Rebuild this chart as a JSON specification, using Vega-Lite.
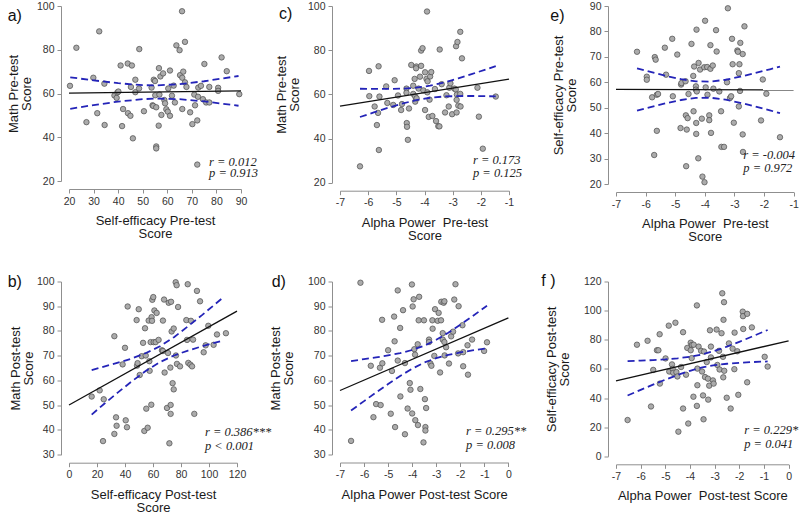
{
"$schema": "https://vega.github.io/schema/vega-lite/v6.json",
"padding": {"left": 7, "top": 1, "right": 0, "bottom": 0},
"config": {
 "view": {"stroke": null},
 "font": "Liberation Sans",
 "axis": {"domainColor": "#8f8f8f", "tickColor": "#8f8f8f", "tickSize": 4, "labelFontSize": 10.5, "labelColor": "#333333", "titleFontSize": 13, "titleFontWeight": "normal", "titleColor": "#1a1a1a", "grid": false, "labelPadding": 3, "offset": 8, "labelFont": "Liberation Sans", "titleFont": "Liberation Sans", "labelFlush": false, "labelOverlap": false, "labelBound": false, "labelExpr": "'' + datum.value", "titleLineHeight": 13},
 "axisY": {"labelAngle": 0},
 "axisX": {"titlePadding": 8},
 "title": {"anchor": "start", "frame": "group", "fontSize": 16, "fontWeight": "normal", "font": "Liberation Sans", "baseline": "alphabetic", "offset": 0, "color": "#111111"},
 "circle": {"size": 30, "fill": "#ababab", "stroke": "#4a4a4a", "strokeWidth": 0.7, "opacity": 1},
 "line": {"strokeWidth": 1.3, "color": "#111111"},
 "text": {"font": "Liberation Serif", "fontStyle": "italic", "fontSize": 12.5, "align": "left", "baseline": "alphabetic", "color": "#222222"}
},
"datasets": {
 "pa": [{"x":20.4,"y":63.5},{"x":23,"y":80.9},{"x":27.1,"y":46.9},{"x":29.9,"y":67.2},{"x":31.5,"y":51},{"x":32.3,"y":88.4},{"x":34.4,"y":64.5},{"x":34.5,"y":45.6},{"x":38.5,"y":59.1},{"x":39.4,"y":58},{"x":39.7,"y":60.5},{"x":40.1,"y":60.9},{"x":41,"y":72.8},{"x":42,"y":52.9},{"x":41.6,"y":45.1},{"x":43.9,"y":73.7},{"x":44,"y":51},{"x":45,"y":49.8},{"x":45.2,"y":63},{"x":45.6,"y":72.8},{"x":46,"y":39.5},{"x":47,"y":66.3},{"x":47,"y":60.6},{"x":48.5,"y":62.3},{"x":48.6,"y":80.3},{"x":50.5,"y":51.9},{"x":53.6,"y":62.7},{"x":54,"y":54.6},{"x":54.3,"y":54.3},{"x":54.5,"y":66.3},{"x":55,"y":65.7},{"x":55.1,"y":59.2},{"x":55.5,"y":53.7},{"x":55.5,"y":35.8},{"x":55.5,"y":34.9},{"x":56.5,"y":45.3},{"x":56.6,"y":71.6},{"x":56.8,"y":59.5},{"x":57.2,"y":67.8},{"x":57.6,"y":50.2},{"x":58.3,"y":69.2},{"x":58.8,"y":57},{"x":59.1,"y":55.5},{"x":59.6,"y":52.8},{"x":60.2,"y":51.7},{"x":60.4,"y":62.3},{"x":61.1,"y":70.5},{"x":61.1,"y":49.8},{"x":61.9,"y":59},{"x":62.6,"y":63.6},{"x":63.1,"y":55.9},{"x":63.7,"y":82},{"x":65,"y":79.8},{"x":65.2,"y":68.4},{"x":66,"y":97.6},{"x":66.1,"y":67.2},{"x":66.1,"y":52.9},{"x":66.5,"y":70},{"x":67.2,"y":83.6},{"x":67.2,"y":65.1},{"x":67.8,"y":63},{"x":69.3,"y":51.4},{"x":70.2,"y":46},{"x":71,"y":59.5},{"x":71.3,"y":54.6},{"x":72.2,"y":27.5},{"x":72.2,"y":47.7},{"x":72.5,"y":58.5},{"x":72.6,"y":62.7},{"x":73.7,"y":63.5},{"x":74.5,"y":57.4},{"x":75.1,"y":73.5},{"x":75.8,"y":55.9},{"x":77.1,"y":55.9},{"x":77.1,"y":63},{"x":80.7,"y":62.6},{"x":80.7,"y":61.2},{"x":82.1,"y":76.5},{"x":84.2,"y":70.2},{"x":89.3,"y":59.7}],
 "la": [{"x":20,"y":60.2},{"x":90,"y":61.2}],
 "ca": [{"x":20.5,"y":67.4,"band":"hi"},{"x":30,"y":66.0,"band":"hi"},{"x":40,"y":64.7,"band":"hi"},{"x":50,"y":63.8,"band":"hi"},{"x":56,"y":63.7,"band":"hi"},{"x":65,"y":64.3,"band":"hi"},{"x":75,"y":65.6,"band":"hi"},{"x":89,"y":68.0,"band":"hi"},
        {"x":20.5,"y":53.0,"band":"lo"},{"x":30,"y":54.7,"band":"lo"},{"x":40,"y":56.3,"band":"lo"},{"x":50,"y":57.4,"band":"lo"},{"x":56,"y":57.7,"band":"lo"},{"x":65,"y":57.4,"band":"lo"},{"x":75,"y":56.4,"band":"lo"},{"x":89,"y":54.4,"band":"lo"}],
 "pc": [{"x":-6.29,"y":27.4},{"x":-5.97,"y":70.6},{"x":-5.96,"y":59.2},{"x":-5.77,"y":54.5},{"x":-5.65,"y":51.6},{"x":-5.69,"y":46.1},{"x":-5.62,"y":34.8},{"x":-5.63,"y":72.7},{"x":-5.6,"y":59},{"x":-5.36,"y":63.6},{"x":-5.32,"y":56.1},{"x":-5.11,"y":55.2},{"x":-4.94,"y":59.5},{"x":-5.06,"y":66.4},{"x":-4.83,"y":52.9},{"x":-4.8,"y":55.6},{"x":-4.64,"y":62.6},{"x":-4.64,"y":60.7},{"x":-4.63,"y":47},{"x":-4.62,"y":45.3},{"x":-4.59,"y":39.4},{"x":-4.55,"y":53.6},{"x":-4.47,"y":73.3},{"x":-4.4,"y":63.9},{"x":-4.4,"y":60.2},{"x":-4.35,"y":67},{"x":-4.33,"y":56.7},{"x":-4.33,"y":59},{"x":-4.28,"y":58.2},{"x":-4.29,"y":72.6},{"x":-4.3,"y":71.8},{"x":-4.21,"y":62.6},{"x":-4.16,"y":68},{"x":-4.12,"y":72.9},{"x":-4.12,"y":79.8},{"x":-4.07,"y":80.9},{"x":-4.04,"y":61.8},{"x":-3.98,"y":52.9},{"x":-3.98,"y":70},{"x":-3.93,"y":67},{"x":-3.91,"y":97.5},{"x":-3.9,"y":60.9},{"x":-3.89,"y":65.9},{"x":-3.85,"y":49.8},{"x":-3.82,"y":57.6},{"x":-3.8,"y":68.1},{"x":-3.76,"y":70.1},{"x":-3.72,"y":50.2},{"x":-3.63,"y":62.4},{"x":-3.59,"y":47.9},{"x":-3.51,"y":45.6},{"x":-3.47,"y":45.5},{"x":-3.46,"y":80.3},{"x":-3.39,"y":64.6},{"x":-3.27,"y":51.8},{"x":-3.22,"y":59.6},{"x":-3.14,"y":54.5},{"x":-3.12,"y":63},{"x":-3.08,"y":65},{"x":-3.02,"y":51},{"x":-2.94,"y":62.6},{"x":-2.89,"y":62.2},{"x":-2.88,"y":81.8},{"x":-2.86,"y":57.5},{"x":-2.86,"y":51.8},{"x":-2.85,"y":59.9},{"x":-2.83,"y":83.7},{"x":-2.8,"y":54.9},{"x":-2.73,"y":88.3},{"x":-2.73,"y":60.2},{"x":-2.72,"y":54.5},{"x":-2.67,"y":76.3},{"x":-2.12,"y":63},{"x":-2.07,"y":49.9},{"x":-1.93,"y":35.4},{"x":-1.47,"y":59}],
 "lc": [{"x":-7,"y":54.7},{"x":-1,"y":66.9}],
 "cc": [{"x":-6.29,"y":62.54,"band":"hi"},{"x":-5.8,"y":62.45,"band":"hi"},{"x":-5.3,"y":62.44,"band":"hi"},{"x":-4.8,"y":62.57,"band":"hi"},{"x":-4.3,"y":63.01,"band":"hi"},{"x":-3.8,"y":63.94,"band":"hi"},{"x":-3.3,"y":65.41,"band":"hi"},{"x":-2.8,"y":67.24,"band":"hi"},{"x":-2.3,"y":69.26,"band":"hi"},{"x":-1.8,"y":71.37,"band":"hi"},{"x":-1.47,"y":72.79,"band":"hi"},
        {"x":-6.29,"y":49.74,"band":"lo"},{"x":-5.8,"y":51.83,"band":"lo"},{"x":-5.3,"y":53.88,"band":"lo"},{"x":-4.8,"y":55.77,"band":"lo"},{"x":-4.3,"y":57.37,"band":"lo"},{"x":-3.8,"y":58.46,"band":"lo"},{"x":-3.3,"y":59.03,"band":"lo"},{"x":-2.8,"y":59.24,"band":"lo"},{"x":-2.3,"y":59.26,"band":"lo"},{"x":-1.8,"y":59.17,"band":"lo"},{"x":-1.47,"y":59.09,"band":"lo"}],
 "pe": [{"x":-6.29,"y":72},{"x":-5.96,"y":62.2},{"x":-5.96,"y":61},{"x":-5.78,"y":54.1},{"x":-5.69,"y":69.9},{"x":-5.66,"y":68.9},{"x":-5.62,"y":55.1},{"x":-5.62,"y":40.9},{"x":-5.58,"y":55.4},{"x":-5.71,"y":31.4},{"x":-5.35,"y":73.6},{"x":-5.31,"y":63},{"x":-5.08,"y":54.5},{"x":-5.1,"y":77.1},{"x":-4.93,"y":70.9},{"x":-4.82,"y":42},{"x":-4.8,"y":59.1},{"x":-4.79,"y":59.7},{"x":-4.65,"y":60.4},{"x":-4.64,"y":47},{"x":-4.61,"y":41.4},{"x":-4.58,"y":45.9},{"x":-4.63,"y":27},{"x":-4.55,"y":55.4},{"x":-4.45,"y":75.1},{"x":-4.38,"y":48.6},{"x":-4.39,"y":62.5},{"x":-4.36,"y":66.2},{"x":-4.3,"y":58.4},{"x":-4.3,"y":57.1},{"x":-4.29,"y":39.7},{"x":-4.29,"y":44},{"x":-4.28,"y":80.7},{"x":-4.27,"y":56.4},{"x":-4.21,"y":67.6},{"x":-4.22,"y":30.1},{"x":-4.16,"y":65},{"x":-4.1,"y":45.7},{"x":-4.08,"y":22.9},{"x":-4.02,"y":65.9},{"x":-4.01,"y":20.7},{"x":-3.99,"y":84.2},{"x":-3.97,"y":58},{"x":-3.92,"y":66},{"x":-3.91,"y":55.1},{"x":-3.85,"y":47},{"x":-3.85,"y":45.1},{"x":-3.81,"y":74.6},{"x":-3.81,"y":65.3},{"x":-3.79,"y":40.1},{"x":-3.73,"y":66.6},{"x":-3.71,"y":57.5},{"x":-3.62,"y":80.5},{"x":-3.6,"y":72.1},{"x":-3.51,"y":56.4},{"x":-3.45,"y":48.6},{"x":-3.44,"y":34.6},{"x":-3.35,"y":34.6},{"x":-3.25,"y":60},{"x":-3.22,"y":89.1},{"x":-3.15,"y":53.8},{"x":-3.11,"y":54.5},{"x":-3.08,"y":77.1},{"x":-3.06,"y":67.1},{"x":-3.02,"y":44.1},{"x":-2.9,"y":72.5},{"x":-2.88,"y":72},{"x":-2.85,"y":63.6},{"x":-2.85,"y":50.5},{"x":-2.83,"y":67.1},{"x":-2.81,"y":56.6},{"x":-2.8,"y":75.5},{"x":-2.72,"y":71.1},{"x":-2.72,"y":39.5},{"x":-2.71,"y":32.6},{"x":-2.66,"y":82},{"x":-2.1,"y":45},{"x":-2.04,"y":61.1},{"x":-1.92,"y":55.5},{"x":-1.46,"y":38.4}],
 "le": [{"x":-7,"y":57.2},{"x":-1,"y":57}],
 "ce": [{"x":-6.29,"y":65.48,"band":"hi"},{"x":-5.8,"y":63.95,"band":"hi"},{"x":-5.3,"y":62.49,"band":"hi"},{"x":-4.8,"y":61.22,"band":"hi"},{"x":-4.3,"y":60.36,"band":"hi"},{"x":-3.8,"y":60.28,"band":"hi"},{"x":-3.3,"y":61.0,"band":"hi"},{"x":-2.8,"y":62.19,"band":"hi"},{"x":-2.3,"y":63.6,"band":"hi"},{"x":-1.8,"y":65.11,"band":"hi"},{"x":-1.46,"y":66.17,"band":"hi"},
        {"x":-6.29,"y":48.88,"band":"lo"},{"x":-5.8,"y":50.37,"band":"lo"},{"x":-5.3,"y":51.79,"band":"lo"},{"x":-4.8,"y":53.04,"band":"lo"},{"x":-4.3,"y":53.86,"band":"lo"},{"x":-3.8,"y":53.92,"band":"lo"},{"x":-3.3,"y":53.16,"band":"lo"},{"x":-2.8,"y":51.93,"band":"lo"},{"x":-2.3,"y":50.5,"band":"lo"},{"x":-1.8,"y":48.95,"band":"lo"},{"x":-1.46,"y":47.87,"band":"lo"}],
 "pb": [{"x":16.2,"y":53.5},{"x":21.9,"y":56},{"x":24.8,"y":52.4},{"x":24.3,"y":35.5},{"x":32.4,"y":77.9},{"x":32.4,"y":38.4},{"x":33.6,"y":45.1},{"x":34,"y":41.7},{"x":38.3,"y":66.5},{"x":40,"y":73.2},{"x":40.5,"y":43.9},{"x":41.4,"y":41.1},{"x":41.9,"y":89.9},{"x":48.3,"y":84.4},{"x":48.6,"y":66},{"x":49,"y":67},{"x":49.8,"y":88.8},{"x":50.5,"y":62.2},{"x":51.9,"y":69.8},{"x":52.9,"y":75.2},{"x":53.8,"y":39.6},{"x":54.3,"y":81.1},{"x":54.8,"y":70.1},{"x":55.2,"y":48.6},{"x":56.2,"y":40.9},{"x":56.9,"y":84.2},{"x":57.4,"y":67.8},{"x":57.6,"y":63.9},{"x":58.3,"y":75.5},{"x":58.8,"y":50.2},{"x":59,"y":85.6},{"x":59.3,"y":84.1},{"x":59.5,"y":92.6},{"x":60.2,"y":93.7},{"x":60.5,"y":75.5},{"x":61,"y":88.3},{"x":61.9,"y":75.5},{"x":62.6,"y":87.3},{"x":64,"y":76.4},{"x":66.4,"y":72.2},{"x":67.1,"y":84.2},{"x":67.1,"y":71.9},{"x":67.9,"y":92.7},{"x":68.3,"y":63.2},{"x":70,"y":48.9},{"x":70.7,"y":71.1},{"x":71.2,"y":91.4},{"x":71.7,"y":34.6},{"x":72.4,"y":65.2},{"x":72.6,"y":50.1},{"x":72.6,"y":46.5},{"x":72.9,"y":91.8},{"x":73.3,"y":79.8},{"x":74,"y":58.9},{"x":74.8,"y":81},{"x":74.8,"y":56.4},{"x":76.4,"y":70.1},{"x":76.2,"y":99.7},{"x":76.9,"y":98.5},{"x":77.1,"y":66.7},{"x":77.9,"y":89.7},{"x":79.3,"y":65.7},{"x":83.8,"y":84.4},{"x":84.3,"y":76.4},{"x":84.8,"y":98.9},{"x":85.2,"y":67.1},{"x":86.7,"y":66.4},{"x":87.1,"y":84.1},{"x":87.9,"y":65.7},{"x":88.6,"y":76.5},{"x":89.5,"y":46.5},{"x":91.4,"y":96.2},{"x":93.6,"y":92},{"x":96.2,"y":71.4},{"x":97.6,"y":74.2},{"x":99.5,"y":82.1},{"x":103.3,"y":74.4},{"x":105.7,"y":78.6},{"x":112.1,"y":79.1}],
 "lb": [{"x":0,"y":50.1},{"x":120,"y":88}],
 "cb": [{"x":16.2,"y":64.2,"band":"hi"},{"x":25,"y":65.6,"band":"hi"},{"x":35,"y":67.2,"band":"hi"},{"x":45,"y":68.9,"band":"hi"},{"x":55,"y":71.1,"band":"hi"},{"x":65,"y":73.8,"band":"hi"},{"x":75,"y":77.5,"band":"hi"},{"x":85,"y":81.9,"band":"hi"},{"x":95,"y":86.4,"band":"hi"},{"x":110.2,"y":93.6,"band":"hi"},
        {"x":16.2,"y":46.2,"band":"lo"},{"x":25,"y":50.5,"band":"lo"},{"x":35,"y":55.2,"band":"lo"},{"x":45,"y":59.7,"band":"lo"},{"x":55,"y":63.9,"band":"lo"},{"x":65,"y":67.4,"band":"lo"},{"x":75,"y":70.1,"band":"lo"},{"x":85,"y":72.1,"band":"lo"},{"x":95,"y":73.8,"band":"lo"},{"x":110.2,"y":76.2,"band":"lo"}],
 "pd": [{"x":-6.54,"y":35.5},{"x":-6.15,"y":99.5},{"x":-5.72,"y":65.9},{"x":-5.61,"y":45.1},{"x":-5.5,"y":50.4},{"x":-5.34,"y":65.1},{"x":-5.31,"y":50},{"x":-5.25,"y":84.5},{"x":-5.24,"y":66.9},{"x":-5,"y":72.2},{"x":-4.89,"y":46.5},{"x":-4.84,"y":63.8},{"x":-4.75,"y":85.8},{"x":-4.73,"y":75.8},{"x":-4.71,"y":41.1},{"x":-4.6,"y":96.4},{"x":-4.6,"y":68},{"x":-4.5,"y":81.2},{"x":-4.49,"y":53.5},{"x":-4.38,"y":88.4},{"x":-4.3,"y":67},{"x":-4.3,"y":38.2},{"x":-4.19,"y":48.6},{"x":-4.1,"y":58.9},{"x":-4.07,"y":56.2},{"x":-4.01,"y":98.8},{"x":-4,"y":46.6},{"x":-3.98,"y":89.9},{"x":-3.94,"y":92.8},{"x":-3.91,"y":72.6},{"x":-3.88,"y":70.4},{"x":-3.87,"y":43.9},{"x":-3.76,"y":41.9},{"x":-3.77,"y":74.6},{"x":-3.73,"y":84.3},{"x":-3.71,"y":93.8},{"x":-3.66,"y":56.5},{"x":-3.51,"y":84.3},{"x":-3.47,"y":52.4},{"x":-3.45,"y":41.1},{"x":-3.45,"y":39.7},{"x":-3.42,"y":48.8},{"x":-3.53,"y":34.9},{"x":-3.3,"y":76.5},{"x":-3.3,"y":75.5},{"x":-3.24,"y":66.8},{"x":-3.2,"y":65.9},{"x":-3.16,"y":84.3},{"x":-3.15,"y":80.9},{"x":-3.08,"y":69.9},{"x":-3.05,"y":88.8},{"x":-2.94,"y":84.1},{"x":-2.9,"y":87.3},{"x":-2.84,"y":63.2},{"x":-2.8,"y":84.3},{"x":-2.79,"y":91.8},{"x":-2.73,"y":79.1},{"x":-2.73,"y":76.5},{"x":-2.69,"y":91.4},{"x":-2.66,"y":92},{"x":-2.66,"y":75.5},{"x":-2.65,"y":70.1},{"x":-2.59,"y":73.4},{"x":-2.47,"y":66.8},{"x":-2.38,"y":77.8},{"x":-2.3,"y":79.7},{"x":-2.25,"y":92.7},{"x":-2.2,"y":98.9},{"x":-2.09,"y":70.9},{"x":-2.07,"y":90},{"x":-1.91,"y":82.3},{"x":-1.88,"y":65.7},{"x":-1.88,"y":71.4},{"x":-1.7,"y":74.2},{"x":-1.68,"y":62.3},{"x":-1.51,"y":76.5},{"x":-1.01,"y":71.9},{"x":-0.89,"y":75.4}],
 "ld": [{"x":-7,"y":55.9},{"x":0,"y":85.3}],
 "cd": [{"x":-6.54,"y":67.8,"band":"hi"},{"x":-6,"y":68.6,"band":"hi"},{"x":-5.5,"y":69.3,"band":"hi"},{"x":-5,"y":70.1,"band":"hi"},{"x":-4.5,"y":71.0,"band":"hi"},{"x":-4,"y":72.3,"band":"hi"},{"x":-3.5,"y":74.0,"band":"hi"},{"x":-3,"y":76.4,"band":"hi"},{"x":-2.5,"y":79.3,"band":"hi"},{"x":-2,"y":82.5,"band":"hi"},{"x":-1.5,"y":85.9,"band":"hi"},{"x":-0.89,"y":90.2,"band":"hi"},
        {"x":-6.54,"y":47.8,"band":"lo"},{"x":-6,"y":51.6,"band":"lo"},{"x":-5.5,"y":55.1,"band":"lo"},{"x":-5,"y":58.5,"band":"lo"},{"x":-4.5,"y":61.8,"band":"lo"},{"x":-4,"y":64.7,"band":"lo"},{"x":-3.5,"y":67.2,"band":"lo"},{"x":-3,"y":69.0,"band":"lo"},{"x":-2.5,"y":70.3,"band":"lo"},{"x":-2,"y":71.3,"band":"lo"},{"x":-1.5,"y":72.1,"band":"lo"},{"x":-0.89,"y":73.0,"band":"lo"}],
 "pf": [{"x":-6.53,"y":24.9},{"x":-6.15,"y":76.6},{"x":-5.72,"y":79.3},{"x":-5.58,"y":34.2},{"x":-5.49,"y":59.3},{"x":-5.34,"y":72.8},{"x":-5.28,"y":72.8},{"x":-5.23,"y":83.8},{"x":-5.22,"y":49.9},{"x":-4.99,"y":67.2},{"x":-4.86,"y":89.7},{"x":-4.84,"y":58.2},{"x":-4.73,"y":63.1},{"x":-4.7,"y":60},{"x":-4.68,"y":57.3},{"x":-4.59,"y":91.7},{"x":-4.55,"y":57.8},{"x":-4.51,"y":54.8},{"x":-4.47,"y":16.9},{"x":-4.36,"y":61.3},{"x":-4.28,"y":85.2},{"x":-4.28,"y":32.8},{"x":-4.16,"y":56},{"x":-4.11,"y":74.4},{"x":-4.07,"y":22.5},{"x":-3.97,"y":78},{"x":-3.97,"y":72.8},{"x":-3.93,"y":67.4},{"x":-3.92,"y":76.4},{"x":-3.86,"y":40.9},{"x":-3.85,"y":76.6},{"x":-3.72,"y":103.6},{"x":-3.72,"y":34.6},{"x":-3.7,"y":60.2},{"x":-3.7,"y":48.8},{"x":-3.65,"y":75.3},{"x":-3.55,"y":72.4},{"x":-3.51,"y":58.2},{"x":-3.47,"y":41.8},{"x":-3.45,"y":25.4},{"x":-3.43,"y":71.9},{"x":-3.39,"y":54.4},{"x":-3.32,"y":64.7},{"x":-3.27,"y":53.3},{"x":-3.26,"y":38.9},{"x":-3.22,"y":48.5},{"x":-3.19,"y":86.5},{"x":-3.15,"y":75.3},{"x":-3.15,"y":67.9},{"x":-3.07,"y":52.1},{"x":-3.04,"y":49.9},{"x":-2.92,"y":87},{"x":-2.89,"y":62.7},{"x":-2.82,"y":72.4},{"x":-2.8,"y":59.6},{"x":-2.72,"y":84.5},{"x":-2.69,"y":111.9},{"x":-2.64,"y":93.7},{"x":-2.62,"y":105.8},{"x":-2.66,"y":68.3},{"x":-2.61,"y":58.7},{"x":-2.65,"y":54.2},{"x":-2.51,"y":40.2},{"x":-2.42,"y":77.5},{"x":-2.35,"y":32.8},{"x":-2.27,"y":73.9},{"x":-2.19,"y":84.9},{"x":-2.2,"y":59.8},{"x":-2.08,"y":72.1},{"x":-2.04,"y":42.2},{"x":-1.86,"y":99.3},{"x":-1.85,"y":96.2},{"x":-1.84,"y":87.4},{"x":-1.68,"y":97.8},{"x":-1.68,"y":50.8},{"x":-1.49,"y":88.5},{"x":-0.97,"y":68.3},{"x":-0.85,"y":61.6}],
 "lf": [{"x":-7,"y":51.7},{"x":0,"y":79.3}],
 "cf": [{"x":-6.53,"y":65.35,"band":"hi"},{"x":-6,"y":65.68,"band":"hi"},{"x":-5.5,"y":66.06,"band":"hi"},{"x":-5,"y":66.55,"band":"hi"},{"x":-4.5,"y":67.25,"band":"hi"},{"x":-4,"y":68.32,"band":"hi"},{"x":-3.5,"y":69.99,"band":"hi"},{"x":-3,"y":72.37,"band":"hi"},{"x":-2.5,"y":75.32,"band":"hi"},{"x":-2,"y":78.6,"band":"hi"},{"x":-1.5,"y":82.06,"band":"hi"},{"x":-0.85,"y":86.73,"band":"hi"},
        {"x":-6.53,"y":41.75,"band":"lo"},{"x":-6,"y":45.6,"band":"lo"},{"x":-5.5,"y":49.16,"band":"lo"},{"x":-5,"y":52.61,"band":"lo"},{"x":-4.5,"y":55.85,"band":"lo"},{"x":-4,"y":58.72,"band":"lo"},{"x":-3.5,"y":60.99,"band":"lo"},{"x":-3,"y":62.55,"band":"lo"},{"x":-2.5,"y":63.54,"band":"lo"},{"x":-2,"y":64.2,"band":"lo"},{"x":-1.5,"y":64.68,"band":"lo"},{"x":-0.85,"y":65.13,"band":"lo"}]
},
"columns": 5,
"align": "each",
"bounds": "flush",
"spacing": {"row": 97.5, "column": 0},
"concat": [
 {
  "width": 172, "height": 175,
  "title": {"text": "a)", "dx": -61.3, "dy": 26.5},
  "layer": [
   {"data": {"name": "pa"}, "mark": {"type": "circle"}, "encoding": {
     "x": {"field": "x", "type": "quantitative", "scale": {"domain": [20, 90], "nice": false, "zero": false}, "axis": {"values": [20,30,40,50,60,70,80,90], "title": ["Self-efficacy Pre-test", "Score"]}},
     "y": {"field": "y", "type": "quantitative", "scale": {"domain": [20, 100], "nice": false, "zero": false}, "axis": {"values": [20,40,60,80,100], "title": ["Math Pre-test", "Score"], "titlePadding": 3.2}}}},
   {"data": {"name": "la"}, "mark": {"type": "line"}, "encoding": {
     "x": {"field": "x", "type": "quantitative", "axis": {"values": [20,30,40,50,60,70,80,90], "title": ["Self-efficacy Pre-test", "Score"]}},
     "y": {"field": "y", "type": "quantitative", "axis": {"values": [20,40,60,80,100], "title": ["Math Pre-test", "Score"], "titlePadding": 3.2}}}},
   {"data": {"name": "ca"}, "mark": {"type": "line", "color": "#2424b8", "strokeWidth": 1.8, "strokeDash": [7, 4]}, "encoding": {"detail": {"field": "band"},
     "x": {"field": "x", "type": "quantitative", "axis": {"values": [20,30,40,50,60,70,80,90], "title": ["Self-efficacy Pre-test", "Score"]}},
     "y": {"field": "y", "type": "quantitative", "axis": {"values": [20,40,60,80,100], "title": ["Math Pre-test", "Score"], "titlePadding": 3.2}}}},
   {"data": {"values": [{"t": "r = 0.012"}]}, "mark": {"type": "text"}, "encoding": {"text": {"field": "t"},
     "x": {"datum": 77, "type": "quantitative", "axis": {"values": [20,30,40,50,60,70,80,90], "title": ["Self-efficacy Pre-test", "Score"]}},
     "y": {"datum": 26.9, "type": "quantitative", "axis": {"values": [20,40,60,80,100], "title": ["Math Pre-test", "Score"], "titlePadding": 3.2}}}},
   {"data": {"values": [{"t": "p = 0.913"}]}, "mark": {"type": "text"}, "encoding": {"text": {"field": "t"},
     "x": {"datum": 77, "type": "quantitative", "axis": {"values": [20,30,40,50,60,70,80,90], "title": ["Self-efficacy Pre-test", "Score"]}},
     "y": {"datum": 21.7, "type": "quantitative", "axis": {"values": [20,40,60,80,100], "title": ["Math Pre-test", "Score"], "titlePadding": 3.2}}}}
  ]
 },
 {"width": 98.7, "height": 1, "data": {"values": []}, "mark": "point"},
 {
  "width": 169, "height": 176.7,
  "title": {"text": "c)", "dx": -61, "dy": 25},
  "layer": [
   {"data": {"name": "pc"}, "mark": {"type": "circle"}, "encoding": {
     "x": {"field": "x", "type": "quantitative", "scale": {"domain": [-7, -1], "nice": false, "zero": false}, "axis": {"values": [-7,-6,-5,-4,-3,-2,-1], "title": ["Alpha Power\u00a0 Pre-test", "Score"]}},
     "y": {"field": "y", "type": "quantitative", "scale": {"domain": [20, 100], "nice": false, "zero": false}, "axis": {"values": [20,40,60,80,100], "title": ["Math Pre-test", "Score"], "titlePadding": 5.5}}}},
   {"data": {"name": "lc"}, "mark": {"type": "line"}, "encoding": {
     "x": {"field": "x", "type": "quantitative", "axis": {"values": [-7,-6,-5,-4,-3,-2,-1], "title": ["Alpha Power\u00a0 Pre-test", "Score"]}},
     "y": {"field": "y", "type": "quantitative", "axis": {"values": [20,40,60,80,100], "title": ["Math Pre-test", "Score"], "titlePadding": 5.5}}}},
   {"data": {"name": "cc"}, "mark": {"type": "line", "color": "#2424b8", "strokeWidth": 1.8, "strokeDash": [7, 4]}, "encoding": {"detail": {"field": "band"},
     "x": {"field": "x", "type": "quantitative", "axis": {"values": [-7,-6,-5,-4,-3,-2,-1], "title": ["Alpha Power\u00a0 Pre-test", "Score"]}},
     "y": {"field": "y", "type": "quantitative", "axis": {"values": [20,40,60,80,100], "title": ["Math Pre-test", "Score"], "titlePadding": 5.5}}}},
   {"data": {"values": [{"t": "r = 0.173"}]}, "mark": {"type": "text"}, "encoding": {"text": {"field": "t"},
     "x": {"datum": -2.28, "type": "quantitative", "axis": {"values": [-7,-6,-5,-4,-3,-2,-1], "title": ["Alpha Power\u00a0 Pre-test", "Score"]}},
     "y": {"datum": 28.6, "type": "quantitative", "axis": {"values": [20,40,60,80,100], "title": ["Math Pre-test", "Score"], "titlePadding": 5.5}}}},
   {"data": {"values": [{"t": "p = 0.125"}]}, "mark": {"type": "text"}, "encoding": {"text": {"field": "t"},
     "x": {"datum": -2.28, "type": "quantitative", "axis": {"values": [-7,-6,-5,-4,-3,-2,-1], "title": ["Alpha Power\u00a0 Pre-test", "Score"]}},
     "y": {"datum": 22.8, "type": "quantitative", "axis": {"values": [20,40,60,80,100], "title": ["Math Pre-test", "Score"], "titlePadding": 5.5}}}}
  ]
 },
 {"width": 107, "height": 1, "data": {"values": []}, "mark": "point"},
 {
  "width": 177.6, "height": 178,
  "title": {"text": "e)", "dx": -65.7, "dy": 27},
  "layer": [
   {"data": {"name": "pe"}, "mark": {"type": "circle"}, "encoding": {
     "x": {"field": "x", "type": "quantitative", "scale": {"domain": [-7, -1], "nice": false, "zero": false}, "axis": {"values": [-7,-6,-5,-4,-3,-2,-1], "title": ["Alpha Power\u00a0 Pre-test", "Score"]}},
     "y": {"field": "y", "type": "quantitative", "scale": {"domain": [20, 90], "nice": false, "zero": false}, "axis": {"values": [20,30,40,50,60,70,80,90], "title": ["Self-efficacy Pre-test", "Score"], "titlePadding": 11.3}}}},
   {"data": {"name": "le"}, "mark": {"type": "line"}, "encoding": {
     "x": {"field": "x", "type": "quantitative", "axis": {"values": [-7,-6,-5,-4,-3,-2,-1], "title": ["Alpha Power\u00a0 Pre-test", "Score"]}},
     "y": {"field": "y", "type": "quantitative", "axis": {"values": [20,30,40,50,60,70,80,90], "title": ["Self-efficacy Pre-test", "Score"], "titlePadding": 11.3}}}},
   {"data": {"name": "ce"}, "mark": {"type": "line", "color": "#2424b8", "strokeWidth": 1.8, "strokeDash": [7, 4]}, "encoding": {"detail": {"field": "band"},
     "x": {"field": "x", "type": "quantitative", "axis": {"values": [-7,-6,-5,-4,-3,-2,-1], "title": ["Alpha Power\u00a0 Pre-test", "Score"]}},
     "y": {"field": "y", "type": "quantitative", "axis": {"values": [20,30,40,50,60,70,80,90], "title": ["Self-efficacy Pre-test", "Score"], "titlePadding": 11.3}}}},
   {"data": {"values": [{"t": "r = -0.004"}]}, "mark": {"type": "text"}, "encoding": {"text": {"field": "t"},
     "x": {"datum": -2.7, "type": "quantitative", "axis": {"values": [-7,-6,-5,-4,-3,-2,-1], "title": ["Alpha Power\u00a0 Pre-test", "Score"]}},
     "y": {"datum": 29.9, "type": "quantitative", "axis": {"values": [20,30,40,50,60,70,80,90], "title": ["Self-efficacy Pre-test", "Score"], "titlePadding": 11.3}}}},
   {"data": {"values": [{"t": "p = 0.972"}]}, "mark": {"type": "text"}, "encoding": {"text": {"field": "t"},
     "x": {"datum": -2.7, "type": "quantitative", "axis": {"values": [-7,-6,-5,-4,-3,-2,-1], "title": ["Alpha Power\u00a0 Pre-test", "Score"]}},
     "y": {"datum": 24.6, "type": "quantitative", "axis": {"values": [20,30,40,50,60,70,80,90], "title": ["Self-efficacy Pre-test", "Score"], "titlePadding": 11.3}}}}
  ]
 },
 {
  "width": 168, "height": 173.2,
  "title": {"text": "b)", "dx": -61.3, "dy": 17.5},
  "layer": [
   {"data": {"name": "pb"}, "mark": {"type": "circle"}, "encoding": {
     "x": {"field": "x", "type": "quantitative", "scale": {"domain": [0, 120], "nice": false, "zero": false}, "axis": {"values": [0,20,40,60,80,100,120], "title": ["Self-efficacy Post-test", "Score"]}},
     "y": {"field": "y", "type": "quantitative", "scale": {"domain": [30, 100], "nice": false, "zero": false}, "axis": {"values": [30,40,50,60,70,80,90,100], "title": ["Math Post-test", "Score"], "titlePadding": 1.1}}}},
   {"data": {"name": "lb"}, "mark": {"type": "line"}, "encoding": {
     "x": {"field": "x", "type": "quantitative", "axis": {"values": [0,20,40,60,80,100,120], "title": ["Self-efficacy Post-test", "Score"]}},
     "y": {"field": "y", "type": "quantitative", "axis": {"values": [30,40,50,60,70,80,90,100], "title": ["Math Post-test", "Score"], "titlePadding": 1.1}}}},
   {"data": {"name": "cb"}, "mark": {"type": "line", "color": "#2424b8", "strokeWidth": 1.8, "strokeDash": [7, 4]}, "encoding": {"detail": {"field": "band"},
     "x": {"field": "x", "type": "quantitative", "axis": {"values": [0,20,40,60,80,100,120], "title": ["Self-efficacy Post-test", "Score"]}},
     "y": {"field": "y", "type": "quantitative", "axis": {"values": [30,40,50,60,70,80,90,100], "title": ["Math Post-test", "Score"], "titlePadding": 1.1}}}},
   {"data": {"values": [{"t": "r = 0.386***"}]}, "mark": {"type": "text"}, "encoding": {"text": {"field": "t"},
     "x": {"datum": 97.1, "type": "quantitative", "axis": {"values": [0,20,40,60,80,100,120], "title": ["Self-efficacy Post-test", "Score"]}},
     "y": {"datum": 37.7, "type": "quantitative", "axis": {"values": [30,40,50,60,70,80,90,100], "title": ["Math Post-test", "Score"], "titlePadding": 1.1}}}},
   {"data": {"values": [{"t": "p < 0.001"}]}, "mark": {"type": "text"}, "encoding": {"text": {"field": "t"},
     "x": {"datum": 97.1, "type": "quantitative", "axis": {"values": [0,20,40,60,80,100,120], "title": ["Self-efficacy Post-test", "Score"]}},
     "y": {"datum": 31.9, "type": "quantitative", "axis": {"values": [30,40,50,60,70,80,90,100], "title": ["Math Post-test", "Score"], "titlePadding": 1.1}}}}
  ]
 },
 {"width": 98.7, "height": 1, "data": {"values": []}, "mark": "point"},
 {
  "width": 168.4, "height": 173,
  "title": {"text": "d)", "dx": -68.3, "dy": 17.5},
  "layer": [
   {"data": {"name": "pd"}, "mark": {"type": "circle"}, "encoding": {
     "x": {"field": "x", "type": "quantitative", "scale": {"domain": [-7, 0], "nice": false, "zero": false}, "axis": {"values": [-7,-6,-5,-4,-3,-2,-1,0], "title": "Alpha Power Post-test Score"}},
     "y": {"field": "y", "type": "quantitative", "scale": {"domain": [30, 100], "nice": false, "zero": false}, "axis": {"values": [30,40,50,60,70,80,90,100], "title": ["Math Post-test", "Score"], "titlePadding": 11.8}}}},
   {"data": {"name": "ld"}, "mark": {"type": "line"}, "encoding": {
     "x": {"field": "x", "type": "quantitative", "axis": {"values": [-7,-6,-5,-4,-3,-2,-1,0], "title": "Alpha Power Post-test Score"}},
     "y": {"field": "y", "type": "quantitative", "axis": {"values": [30,40,50,60,70,80,90,100], "title": ["Math Post-test", "Score"], "titlePadding": 11.8}}}},
   {"data": {"name": "cd"}, "mark": {"type": "line", "color": "#2424b8", "strokeWidth": 1.8, "strokeDash": [7, 4]}, "encoding": {"detail": {"field": "band"},
     "x": {"field": "x", "type": "quantitative", "axis": {"values": [-7,-6,-5,-4,-3,-2,-1,0], "title": "Alpha Power Post-test Score"}},
     "y": {"field": "y", "type": "quantitative", "axis": {"values": [30,40,50,60,70,80,90,100], "title": ["Math Post-test", "Score"], "titlePadding": 11.8}}}},
   {"data": {"values": [{"t": "r = 0.295**"}]}, "mark": {"type": "text"}, "encoding": {"text": {"field": "t"},
     "x": {"datum": -1.76, "type": "quantitative", "axis": {"values": [-7,-6,-5,-4,-3,-2,-1,0], "title": "Alpha Power Post-test Score"}},
     "y": {"datum": 37.7, "type": "quantitative", "axis": {"values": [30,40,50,60,70,80,90,100], "title": ["Math Post-test", "Score"], "titlePadding": 11.8}}}},
   {"data": {"values": [{"t": "p = 0.008"}]}, "mark": {"type": "text"}, "encoding": {"text": {"field": "t"},
     "x": {"datum": -1.76, "type": "quantitative", "axis": {"values": [-7,-6,-5,-4,-3,-2,-1,0], "title": "Alpha Power Post-test Score"}},
     "y": {"datum": 32.2, "type": "quantitative", "axis": {"values": [30,40,50,60,70,80,90,100], "title": ["Math Post-test", "Score"], "titlePadding": 11.8}}}}
  ]
 },
 {"width": 107, "height": 1, "data": {"values": []}, "mark": "point"},
 {
  "width": 172.6, "height": 174.8,
  "title": {"text": "f )", "dx": -74.7, "dy": 16.5},
  "layer": [
   {"data": {"name": "pf"}, "mark": {"type": "circle"}, "encoding": {
     "x": {"field": "x", "type": "quantitative", "scale": {"domain": [-7, 0], "nice": false, "zero": false}, "axis": {"values": [-7,-6,-5,-4,-3,-2,-1,0], "title": "Alpha Power\u00a0 Post-test Score"}},
     "y": {"field": "y", "type": "quantitative", "scale": {"domain": [0, 120], "nice": false, "zero": false}, "axis": {"values": [0,20,40,60,80,100,120], "title": ["Self-efficacy Post-test", "Score"], "titlePadding": 11.5}}}},
   {"data": {"name": "lf"}, "mark": {"type": "line"}, "encoding": {
     "x": {"field": "x", "type": "quantitative", "axis": {"values": [-7,-6,-5,-4,-3,-2,-1,0], "title": "Alpha Power\u00a0 Post-test Score"}},
     "y": {"field": "y", "type": "quantitative", "axis": {"values": [0,20,40,60,80,100,120], "title": ["Self-efficacy Post-test", "Score"], "titlePadding": 11.5}}}},
   {"data": {"name": "cf"}, "mark": {"type": "line", "color": "#2424b8", "strokeWidth": 1.8, "strokeDash": [7, 4]}, "encoding": {"detail": {"field": "band"},
     "x": {"field": "x", "type": "quantitative", "axis": {"values": [-7,-6,-5,-4,-3,-2,-1,0], "title": "Alpha Power\u00a0 Post-test Score"}},
     "y": {"field": "y", "type": "quantitative", "axis": {"values": [0,20,40,60,80,100,120], "title": ["Self-efficacy Post-test", "Score"], "titlePadding": 11.5}}}},
   {"data": {"values": [{"t": "r = 0.229*"}]}, "mark": {"type": "text"}, "encoding": {"text": {"field": "t"},
     "x": {"datum": -1.8, "type": "quantitative", "axis": {"values": [-7,-6,-5,-4,-3,-2,-1,0], "title": "Alpha Power\u00a0 Post-test Score"}},
     "y": {"datum": 15, "type": "quantitative", "axis": {"values": [0,20,40,60,80,100,120], "title": ["Self-efficacy Post-test", "Score"], "titlePadding": 11.5}}}},
   {"data": {"values": [{"t": "p = 0.041"}]}, "mark": {"type": "text"}, "encoding": {"text": {"field": "t"},
     "x": {"datum": -1.8, "type": "quantitative", "axis": {"values": [-7,-6,-5,-4,-3,-2,-1,0], "title": "Alpha Power\u00a0 Post-test Score"}},
     "y": {"datum": 5.8, "type": "quantitative", "axis": {"values": [0,20,40,60,80,100,120], "title": ["Self-efficacy Post-test", "Score"], "titlePadding": 11.5}}}}
  ]
 }
]
}
